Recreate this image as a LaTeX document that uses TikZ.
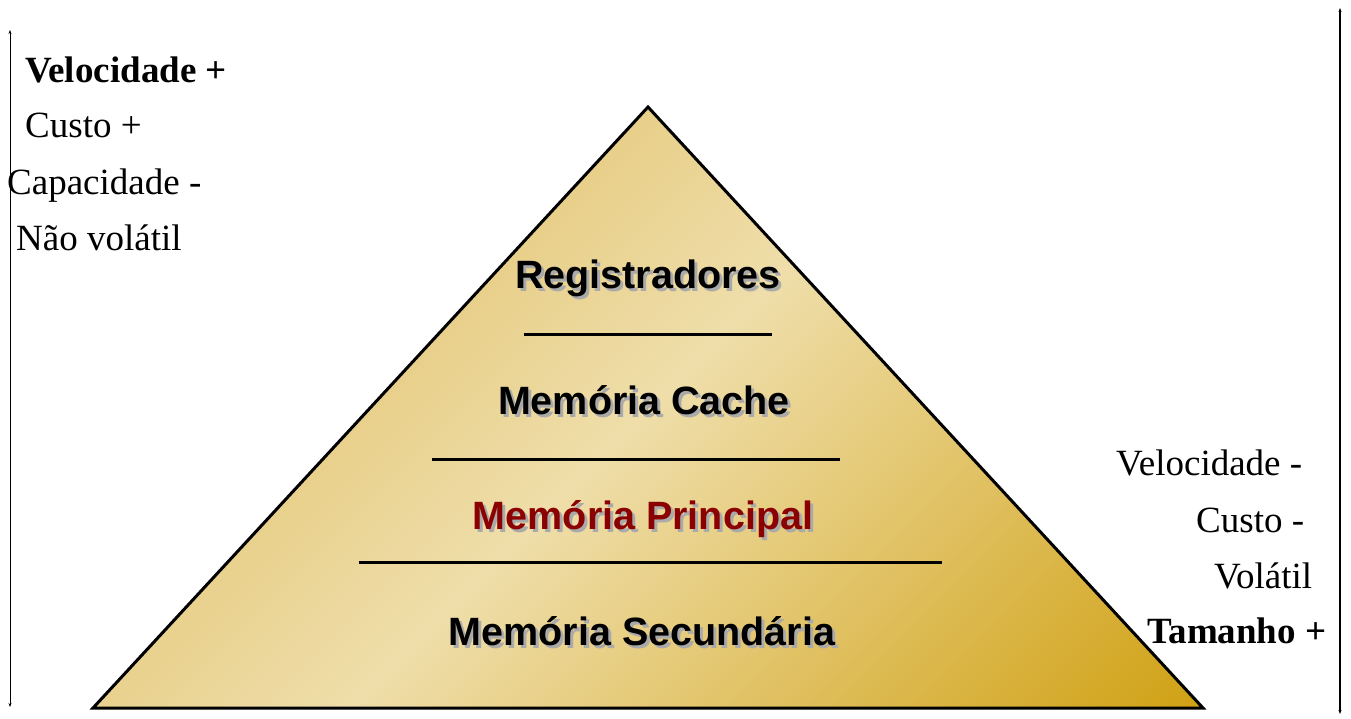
\documentclass[tikz,border=0pt]{standalone}
\usepackage{fontspec}
\setmainfont{Liberation Serif}
\setsansfont{Liberation Sans}
\usetikzlibrary{arrows.meta}

% Colors
\definecolor{goldEdge}{RGB}{224,191,102}
\definecolor{goldLight}{RGB}{239,222,170}
\definecolor{goldDark}{RGB}{204,153,0}
\definecolor{shadowGray}{RGB}{170,170,170}
\definecolor{mainRed}{RGB}{139,0,0}

% gold fill: dark at the bottom, light band in the middle
\pgfdeclareverticalshading{pyramidGold}{100bp}{color(0bp)=(goldDark); color(10bp)=(goldDark);
  color(50bp)=(goldLight); color(76bp)=(goldEdge); color(100bp)=(goldEdge)}

\begin{document}
\begin{tikzpicture}[x=1pt, y=-1pt, line join=miter, >={Stealth[length=4pt, width=3pt]}]

  \useasboundingbox (0,0) rectangle (1351,718);

  \tikzset{
    layer/.style={font=\sffamily\bfseries\fontsize{39.5}{39.5}\selectfont, anchor=base, inner sep=0pt},
    shadow/.style={layer, text=shadowGray},
    side/.style={font=\fontsize{37}{37}\selectfont, anchor=base west, inner sep=0pt},
    sidebold/.style={side, font=\bfseries\fontsize{37}{37}\selectfont},
    sep/.style={line width=3pt}
  }

  % Key points of the pyramid
  \coordinate (top) at (648,107);
  \coordinate (bl)  at (93,708);
  \coordinate (br)  at (1203,708);

  % Pyramid body
  \shade[shading=pyramidGold, shading angle=45] (top) -- (bl) -- (br) -- cycle;
  \draw[line width=3pt] (top) -- (bl) -- (br) -- cycle;

  % Separators between levels
  \coordinate (s1l) at (524,334); \coordinate (s1r) at (772,334);
  \coordinate (s2l) at (432,459); \coordinate (s2r) at (840,459);
  \coordinate (s3l) at (359,562); \coordinate (s3r) at (942,562);
  \draw[sep] (s1l) -- (s1r);
  \draw[sep] (s2l) -- (s2r);
  \draw[sep] (s3l) -- (s3r);

  % Levels (shadow first, then text)
  \node[shadow] (regS) at (651,291) {Registradores};
  \node[layer]  (reg)  at (648,288) {Registradores};
  \node[shadow] (cacheS) at (647,417) {Memória Cache};
  \node[layer]  (cache)  at (644,414) {Memória Cache};
  \node[shadow] (mainS) at (646,532) {Memória Principal};
  \node[layer, text=mainRed] (main) at (643,529) {Memória Principal};
  \node[shadow] (secS) at (645,648) {Memória Secundária};
  \node[layer]  (sec)  at (642,645) {Memória Secundária};

  % Left scale
  \coordinate (lt) at (10,30);
  \coordinate (lb) at (10,707);
  \draw[<->, line width=1pt] (lt) -- (lb);
  \node[sidebold] (velP) at (25,82) {Velocidade +};
  \node[side] (custoP) at (25,137) {Custo +};
  \node[side] (capM)   at (7,194)  {Capacidade -};
  \node[side] (naoVol) at (16,250) {Não volátil};

  % Right scale
  \coordinate (rt) at (1340,8);
  \coordinate (rb) at (1340,714);
  \draw[<->, line width=1.5pt] (rt) -- (rb);
  \node[side] (velM)   at (1116,475) {Velocidade -};
  \node[side] (custoM) at (1196,532) {Custo -};
  \node[side] (vol)    at (1214,588) {Volátil};
  \node[sidebold] (tamP) at (1147,643) {Tamanho +};

\end{tikzpicture}
\end{document}
